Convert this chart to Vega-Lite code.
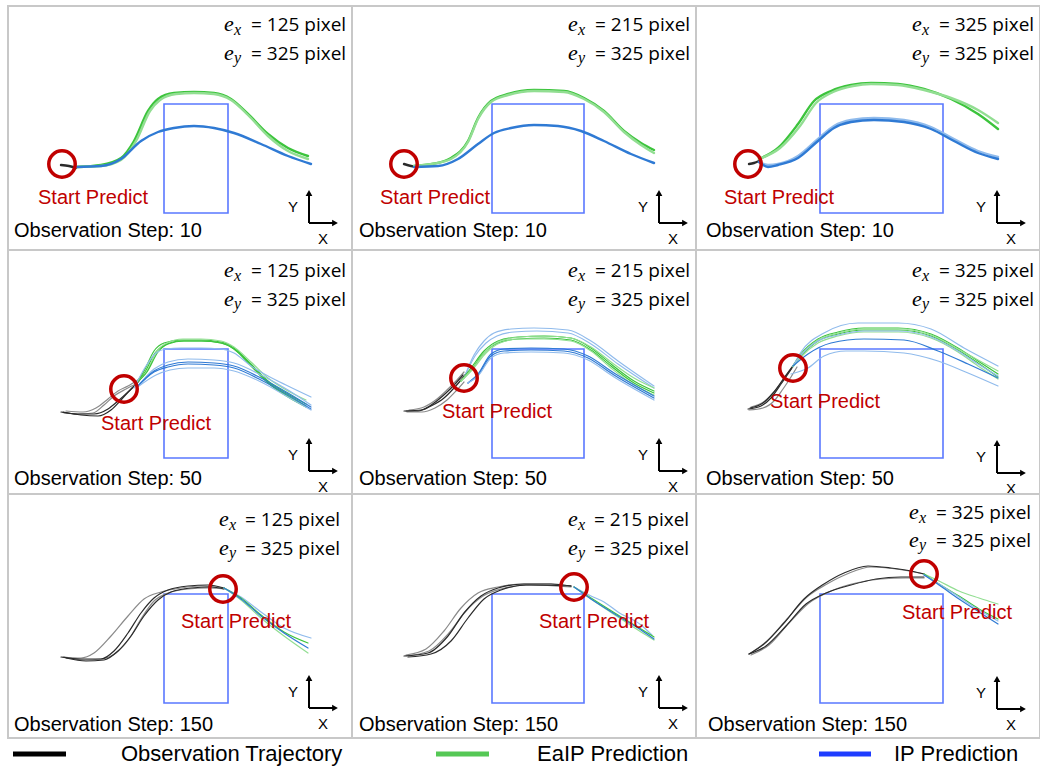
{
  "$schema": "https://vega.github.io/schema/vega-lite/v6.json",
  "padding": {"left": 7, "top": 5, "right": 0, "bottom": 0},
  "background": "white",
  "config": {"view": {"stroke": "#c8c8c8", "strokeWidth": 2}, "concat": {"spacing": 0}, "facet": {"spacing": 0}},
  "spacing": 0,
  "resolve": {"scale": {"color": "independent", "x": "independent", "y": "independent"}},
  "vconcat": [
    {
      "data": {"values": [
        {"r":1,"c":1,"k":"L","s":"obs","i":"o1","x":[53,61,68],"y":[159,160,162]},
        {"r":1,"c":1,"k":"L","s":"eaip","i":"g1","x":[68,93,113,126,140,150,166,186,206,223,240,260,280,300],"y":[161,159,152,135,105,93,87,86,87,93,108,128,142,150]},
        {"r":1,"c":1,"k":"L","s":"eaip2","i":"g2","x":[68,93,113,128,142,152,168,186,206,223,240,260,280,300],"y":[161,160,154,135,105,94,88,87,88,94,109,130,145,153]},
        {"r":1,"c":1,"k":"L","s":"ip","i":"b1","x":[68,93,113,133,150,166,186,206,226,253,280,303],"y":[161,160,153,135,126,122,120,122,127,138,150,158]},

        {"r":1,"c":2,"k":"L","s":"obs","i":"o1","x":[52,59,66],"y":[158,160,161]},
        {"r":1,"c":2,"k":"L","s":"eaip","i":"g1","x":[62,80,99,116,126,139,156,182,212,232,252,272,289,302],"y":[160,158,152,135,112,95,88,84,85,92,105,125,137,144]},
        {"r":1,"c":2,"k":"L","s":"eaip2","i":"g2","x":[62,80,99,116,126,139,156,182,212,232,252,272,289,302],"y":[160,158,153,136,113,96,89,85,86,93,106,126,139,147]},
        {"r":1,"c":2,"k":"L","s":"ip","i":"b1","x":[62,86,106,126,142,159,182,206,229,252,279,302],"y":[161,160,153,138,127,122,119,120,125,135,148,157]},

        {"r":1,"c":3,"k":"L","s":"obs","i":"o1","x":[53,58,63],"y":[158,157,155]},
        {"r":1,"c":3,"k":"L","s":"eaip","i":"g1","x":[63,82,102,118,135,155,175,202,228,255,282,302],"y":[153,142,118,95,85,79,77,78,83,93,108,123]},
        {"r":1,"c":3,"k":"L","s":"eaip2","i":"g2","x":[63,84,104,120,137,157,175,202,228,255,282,302],"y":[153,142,120,97,86,80,78,79,84,92,104,117]},
        {"r":1,"c":3,"k":"L","s":"ip2","i":"b2","x":[63,72,82,102,122,138,155,178,208,235,258,282,302],"y":[156,159,158,150,133,120,114,112,114,121,133,145,151]},
        {"r":1,"c":3,"k":"L","s":"ip","i":"b1","x":[63,72,82,102,122,138,155,178,208,235,258,282,302],"y":[156,161,159,152,135,122,116,114,116,123,135,147,153]},

        {"r":2,"c":1,"k":"L","s":"obs2","i":"o3","x":[58,75,88,100,110,120,130],"y":[161,162,158,149,141,136,130]},
        {"r":2,"c":1,"k":"L","s":"obs2","i":"o4","x":[56,71,85,96,106,118,128],"y":[163,164,163,155,146,139,134]},
        {"r":2,"c":1,"k":"L","s":"obs","i":"o1","x":[53,70,86,100,110,120,130,134],"y":[162,164,164,159,151,142,132,126]},
        {"r":2,"c":1,"k":"L","s":"obs","i":"o2","x":[55,73,90,103,113,123,131,135],"y":[162,165,166,160,150,139,131,125]},
        {"r":2,"c":1,"k":"L","s":"eaip","i":"g1","x":[128,136,146,156,173,193,213,226,243,260,280,298],"y":[133,121,101,93,90,90,92,98,114,131,144,154]},
        {"r":2,"c":1,"k":"L","s":"eaip","i":"g2","x":[128,137,147,157,173,193,213,226,243,260,280,298],"y":[133,122,103,95,91,91,93,99,116,133,147,157]},
        {"r":2,"c":1,"k":"L","s":"eaip2","i":"g3","x":[128,139,149,159,175,193,213,226,243,260,280,298],"y":[133,121,101,93,89,89,91,97,112,128,141,150]},
        {"r":2,"c":1,"k":"L","s":"eaip","i":"g4","x":[128,139,150,160,176,195,213,226,243,260,280,298],"y":[133,122,102,94,91,91,93,99,115,132,146,156]},
        {"r":2,"c":1,"k":"L","s":"ip2","i":"bu","x":[126,138,148,158,173,193,213,226,243,260,280,303],"y":[138,116,103,99,98,98,99,103,116,126,136,147]},
        {"r":2,"c":1,"k":"L","s":"ip2","i":"b2","x":[130,146,160,180,206,226,253,280,303],"y":[136,119,112,109,110,113,125,140,155]},
        {"r":2,"c":1,"k":"L","s":"ip","i":"b3","x":[130,146,160,180,206,226,253,280,303],"y":[136,121,115,112,113,116,128,143,157]},
        {"r":2,"c":1,"k":"L","s":"ip","i":"b4","x":[130,146,160,180,206,226,253,280,303],"y":[136,122,117,114,115,118,130,145,159]},
        {"r":2,"c":1,"k":"L","s":"ip2","i":"b5","x":[131,148,162,180,206,226,253,280,303],"y":[136,125,120,118,118,121,132,147,160]},

        {"r":2,"c":2,"k":"L","s":"obs2","i":"o3","x":[57,72,85,96,105,112],"y":[160,157,149,139,130,122]},
        {"r":2,"c":2,"k":"L","s":"obs2","i":"o4","x":[55,70,83,95,104,112],"y":[162,162,158,150,141,132]},
        {"r":2,"c":2,"k":"L","s":"obs","i":"o1","x":[52,66,79,92,102,109,115],"y":[161,161,156,148,138,130,122]},
        {"r":2,"c":2,"k":"L","s":"obs","i":"o2","x":[54,69,82,94,104,111],"y":[161,160,153,143,133,125]},
        {"r":2,"c":2,"k":"L","s":"ip2","i":"bu1","x":[112,122,132,142,159,182,216,239,266,302],"y":[128,105,91,83,79,78,80,91,111,136]},
        {"r":2,"c":2,"k":"L","s":"ip2","i":"bu2","x":[112,123,134,145,162,185,216,239,266,302],"y":[128,106,93,86,82,81,83,94,114,138]},
        {"r":2,"c":2,"k":"L","s":"eaip","i":"g1","x":[109,119,132,146,166,192,219,239,259,282,302],"y":[131,118,101,91,87,86,88,98,114,131,141]},
        {"r":2,"c":2,"k":"L","s":"eaip","i":"g2","x":[109,119,132,146,166,192,219,239,259,282,302],"y":[131,120,103,93,89,88,90,100,116,133,143]},
        {"r":2,"c":2,"k":"L","s":"eaip2","i":"g3","x":[109,121,134,148,168,192,219,239,259,282,302],"y":[131,118,101,91,87,86,88,97,112,128,138]},
        {"r":2,"c":2,"k":"L","s":"eaip2","i":"g4","x":[109,121,134,148,168,192,219,239,259,282,302],"y":[131,119,103,93,89,89,91,101,118,135,145]},
        {"r":2,"c":2,"k":"L","s":"ip","i":"b1","x":[116,126,139,152,179,212,236,262,302],"y":[133,124,104,99,98,99,106,123,146]},
        {"r":2,"c":2,"k":"L","s":"ip","i":"b2","x":[116,126,139,152,179,212,236,262,302],"y":[133,125,106,101,100,101,108,125,148]},
        {"r":2,"c":2,"k":"L","s":"ip2","i":"b3","x":[116,126,139,152,179,212,236,262,302],"y":[133,126,108,103,102,103,110,127,150]},

        {"r":2,"c":3,"k":"L","s":"obs2","i":"o3","x":[55,69,79,88,95],"y":[157,151,141,128,119]},
        {"r":2,"c":3,"k":"L","s":"obs2","i":"o4","x":[53,67,78,87,95,101],"y":[160,158,151,139,127,117]},
        {"r":2,"c":3,"k":"L","s":"obs","i":"o1","x":[52,65,75,85,92,98],"y":[159,156,148,134,124,115]},
        {"r":2,"c":3,"k":"L","s":"obs","i":"o2","x":[54,67,77,86,93,99],"y":[158,153,143,131,121,113]},
        {"r":2,"c":3,"k":"L","s":"ip2","i":"bu","x":[97,105,128,162,202,235,268,302],"y":[116,102,83,73,73,79,98,116]},
        {"r":2,"c":3,"k":"L","s":"eaip","i":"g1","x":[97,105,122,142,168,202,235,262,282,302],"y":[116,104,89,82,78,78,84,98,111,124]},
        {"r":2,"c":3,"k":"L","s":"eaip","i":"g2","x":[97,105,122,142,168,202,235,262,282,302],"y":[116,106,91,84,80,80,86,100,113,127]},
        {"r":2,"c":3,"k":"L","s":"eaip2","i":"g3","x":[97,105,122,142,168,202,235,262,282,302],"y":[116,105,90,83,79,79,85,99,110,121]},
        {"r":2,"c":3,"k":"L","s":"eaip2","i":"g4","x":[97,105,122,142,168,202,235,262,282,302],"y":[117,107,93,86,82,82,88,102,116,129]},
        {"r":2,"c":3,"k":"L","s":"ip2","i":"b2","x":[97,105,122,142,168,202,235,262,282,302],"y":[116,105,91,85,81,81,87,101,114,126]},
        {"r":2,"c":3,"k":"L","s":"ip","i":"bm","x":[97,112,135,168,208,242,272,302],"y":[116,104,93,89,90,101,114,128]},
        {"r":2,"c":3,"k":"L","s":"ip2","i":"bl","x":[95,112,128,150,168,208,242,272,302],"y":[124,118,106,101,101,103,111,123,136]},

        {"r":3,"c":1,"k":"L","s":"obs2","i":"o2","x":[55,73,86,103,120,136,153,173,193,216],"y":[163,164,159,142,122,105,98,94,92,94]},
        {"r":3,"c":1,"k":"L","s":"obs2","i":"o4","x":[56,76,93,108,121,133,146,160,180,200,216],"y":[163,166,165,159,145,125,107,99,95,94,95]},
        {"r":3,"c":1,"k":"L","s":"obs","i":"o1","x":[53,73,93,106,120,133,146,160,180,200,216],"y":[163,165,165,157,139,119,104,96,92,91,94]},
        {"r":3,"c":1,"k":"L","s":"obs","i":"o3","x":[58,78,96,110,123,136,150,163,183,203,216],"y":[164,167,166,157,142,122,106,98,94,93,95]},
        {"r":3,"c":1,"k":"L","s":"ip2","i":"bu","x":[216,233,253,276,303],"y":[94,103,118,134,144]},
        {"r":3,"c":1,"k":"L","s":"eaip","i":"g1","x":[216,233,253,276,300],"y":[94,104,121,138,149]},
        {"r":3,"c":1,"k":"L","s":"eaip2","i":"g2","x":[216,233,253,276,300],"y":[94,106,124,142,159]},
        {"r":3,"c":1,"k":"L","s":"ip","i":"b1","x":[216,233,253,276,300],"y":[94,105,122,139,154]},

        {"r":3,"c":2,"k":"L","s":"obs2","i":"o2","x":[54,74,92,109,126,146,172,199,219],"y":[161,155,137,114,99,93,90,90,92]},
        {"r":3,"c":2,"k":"L","s":"obs2","i":"o4","x":[54,77,97,114,131,149,179,219],"y":[162,157,139,117,102,95,91,93]},
        {"r":3,"c":2,"k":"L","s":"obs","i":"o1","x":[52,76,96,112,129,146,172,199,219],"y":[162,159,142,119,102,94,90,90,92]},
        {"r":3,"c":2,"k":"L","s":"obs","i":"o3","x":[56,79,99,116,132,149,174,219],"y":[163,160,147,124,105,96,91,92]},
        {"r":3,"c":2,"k":"L","s":"ip2","i":"bu","x":[222,239,252,266,289,300],"y":[93,102,108,118,131,141]},
        {"r":3,"c":2,"k":"L","s":"eaip","i":"g1","x":[222,239,266,289,302],"y":[93,104,121,135,143]},
        {"r":3,"c":2,"k":"L","s":"eaip2","i":"g2","x":[222,239,266,289,302],"y":[93,105,123,138,146]},
        {"r":3,"c":2,"k":"L","s":"ip","i":"b1","x":[222,239,266,289,302],"y":[93,105,122,136,145]},

        {"r":3,"c":3,"k":"L","s":"obs2","i":"o2","x":[55,71,91,111,131,151,175,200,228],"y":[159,147,125,103,90,80,73,75,80]},
        {"r":3,"c":3,"k":"L","s":"obs2","i":"o4","x":[55,73,93,113,135,160,185,210,228],"y":[161,151,129,109,97,89,85,84,84]},
        {"r":3,"c":3,"k":"L","s":"obs","i":"o1","x":[53,68,88,108,128,148,172,195,215,228],"y":[160,150,129,105,90,79,72,74,77,80]},
        {"r":3,"c":3,"k":"L","s":"obs","i":"o3","x":[53,70,90,110,130,155,180,205,228],"y":[160,152,132,110,99,91,85,83,83]},
        {"r":3,"c":3,"k":"L","s":"eaip2","i":"gu","x":[228,243,263,283,302],"y":[80,87,97,104,110]},
        {"r":3,"c":3,"k":"L","s":"eaip","i":"g1","x":[228,243,263,283,302],"y":[80,90,102,115,125]},
        {"r":3,"c":3,"k":"L","s":"ip2","i":"b2","x":[228,243,263,283,302],"y":[81,90,103,116,127]},
        {"r":3,"c":3,"k":"L","s":"ip","i":"b1","x":[228,243,263,283,302],"y":[81,91,105,118,130]},

        {"r":1,"c":1,"k":"box","x":156,"x2":220,"y":98,"y2":207},
        {"r":1,"c":2,"k":"box","x":140,"x2":232,"y":98,"y2":207},
        {"r":1,"c":3,"k":"box","x":124,"x2":247,"y":98,"y2":207},
        {"r":2,"c":1,"k":"box","x":156,"x2":220,"y":99,"y2":208},
        {"r":2,"c":2,"k":"box","x":140,"x2":232,"y":99,"y2":208},
        {"r":2,"c":3,"k":"box","x":124,"x2":247,"y":99,"y2":208},
        {"r":3,"c":1,"k":"box","x":156,"x2":220,"y":100,"y2":209},
        {"r":3,"c":2,"k":"box","x":140,"x2":232,"y":100,"y2":209},
        {"r":3,"c":3,"k":"box","x":124,"x2":247,"y":100,"y2":209},

        {"r":1,"c":1,"k":"ring","x":54,"y":158},
        {"r":1,"c":2,"k":"ring","x":52,"y":158},
        {"r":1,"c":3,"k":"ring","x":52,"y":158},
        {"r":2,"c":1,"k":"ring","x":116,"y":139},
        {"r":2,"c":2,"k":"ring","x":112,"y":128},
        {"r":2,"c":3,"k":"ring","x":97,"y":118},
        {"r":3,"c":1,"k":"ring","x":215,"y":95},
        {"r":3,"c":2,"k":"ring","x":222,"y":93},
        {"r":3,"c":3,"k":"ring","x":228,"y":80},

        {"r":1,"c":1,"k":"sp","x":30,"y":198,"t":"Start Predict"},
        {"r":1,"c":2,"k":"sp","x":28,"y":198,"t":"Start Predict"},
        {"r":1,"c":3,"k":"sp","x":28,"y":198,"t":"Start Predict"},
        {"r":2,"c":1,"k":"sp","x":93,"y":180,"t":"Start Predict"},
        {"r":2,"c":2,"k":"sp","x":90,"y":168,"t":"Start Predict"},
        {"r":2,"c":3,"k":"sp","x":74,"y":158,"t":"Start Predict"},
        {"r":3,"c":1,"k":"sp","x":173,"y":134,"t":"Start Predict"},
        {"r":3,"c":2,"k":"sp","x":187,"y":134,"t":"Start Predict"},
        {"r":3,"c":3,"k":"sp","x":206,"y":125,"t":"Start Predict"},

        {"r":1,"c":1,"k":"step","x":6,"y":231,"t":"Observation Step: 10"},
        {"r":1,"c":2,"k":"step","x":7,"y":231,"t":"Observation Step: 10"},
        {"r":1,"c":3,"k":"step","x":10,"y":231,"t":"Observation Step: 10"},
        {"r":2,"c":1,"k":"step","x":6,"y":235,"t":"Observation Step: 50"},
        {"r":2,"c":2,"k":"step","x":7,"y":235,"t":"Observation Step: 50"},
        {"r":2,"c":3,"k":"step","x":10,"y":235,"t":"Observation Step: 50"},
        {"r":3,"c":1,"k":"step","x":6,"y":237,"t":"Observation Step: 150"},
        {"r":3,"c":2,"k":"step","x":7,"y":237,"t":"Observation Step: 150"},
        {"r":3,"c":3,"k":"step","x":12,"y":237,"t":"Observation Step: 150"},

        {"r":1,"c":1,"k":"e","x":216,"y":25,"t":"e"},{"r":1,"c":1,"k":"e","x":216,"y":54,"t":"e"},
        {"r":1,"c":1,"k":"sub","x":226,"y":29,"t":"x"},{"r":1,"c":1,"k":"sub","x":226,"y":57,"t":"y"},
        {"r":1,"c":1,"k":"eq","x":243,"y":25,"t":"= 125 pixel"},{"r":1,"c":1,"k":"eq","x":243,"y":54,"t":"= 325 pixel"},
        {"r":1,"c":2,"k":"e","x":216,"y":25,"t":"e"},{"r":1,"c":2,"k":"e","x":216,"y":54,"t":"e"},
        {"r":1,"c":2,"k":"sub","x":226,"y":29,"t":"x"},{"r":1,"c":2,"k":"sub","x":226,"y":57,"t":"y"},
        {"r":1,"c":2,"k":"eq","x":243,"y":25,"t":"= 215 pixel"},{"r":1,"c":2,"k":"eq","x":243,"y":54,"t":"= 325 pixel"},
        {"r":1,"c":3,"k":"e","x":216,"y":25,"t":"e"},{"r":1,"c":3,"k":"e","x":216,"y":54,"t":"e"},
        {"r":1,"c":3,"k":"sub","x":226,"y":29,"t":"x"},{"r":1,"c":3,"k":"sub","x":226,"y":57,"t":"y"},
        {"r":1,"c":3,"k":"eq","x":243,"y":25,"t":"= 325 pixel"},{"r":1,"c":3,"k":"eq","x":243,"y":54,"t":"= 325 pixel"},
        {"r":2,"c":1,"k":"e","x":216,"y":27,"t":"e"},{"r":2,"c":1,"k":"e","x":216,"y":56,"t":"e"},
        {"r":2,"c":1,"k":"sub","x":226,"y":31,"t":"x"},{"r":2,"c":1,"k":"sub","x":226,"y":59,"t":"y"},
        {"r":2,"c":1,"k":"eq","x":243,"y":27,"t":"= 125 pixel"},{"r":2,"c":1,"k":"eq","x":243,"y":56,"t":"= 325 pixel"},
        {"r":2,"c":2,"k":"e","x":216,"y":27,"t":"e"},{"r":2,"c":2,"k":"e","x":216,"y":56,"t":"e"},
        {"r":2,"c":2,"k":"sub","x":226,"y":31,"t":"x"},{"r":2,"c":2,"k":"sub","x":226,"y":59,"t":"y"},
        {"r":2,"c":2,"k":"eq","x":243,"y":27,"t":"= 215 pixel"},{"r":2,"c":2,"k":"eq","x":243,"y":56,"t":"= 325 pixel"},
        {"r":2,"c":3,"k":"e","x":216,"y":27,"t":"e"},{"r":2,"c":3,"k":"e","x":216,"y":56,"t":"e"},
        {"r":2,"c":3,"k":"sub","x":226,"y":31,"t":"x"},{"r":2,"c":3,"k":"sub","x":226,"y":59,"t":"y"},
        {"r":2,"c":3,"k":"eq","x":243,"y":27,"t":"= 325 pixel"},{"r":2,"c":3,"k":"eq","x":243,"y":56,"t":"= 325 pixel"},
        {"r":3,"c":1,"k":"e","x":211,"y":32,"t":"e"},{"r":3,"c":1,"k":"e","x":211,"y":61,"t":"e"},
        {"r":3,"c":1,"k":"sub","x":221,"y":36,"t":"x"},{"r":3,"c":1,"k":"sub","x":221,"y":64,"t":"y"},
        {"r":3,"c":1,"k":"eq","x":237,"y":32,"t":"= 125 pixel"},{"r":3,"c":1,"k":"eq","x":237,"y":61,"t":"= 325 pixel"},
        {"r":3,"c":2,"k":"e","x":216,"y":32,"t":"e"},{"r":3,"c":2,"k":"e","x":216,"y":61,"t":"e"},
        {"r":3,"c":2,"k":"sub","x":226,"y":36,"t":"x"},{"r":3,"c":2,"k":"sub","x":226,"y":64,"t":"y"},
        {"r":3,"c":2,"k":"eq","x":242,"y":32,"t":"= 215 pixel"},{"r":3,"c":2,"k":"eq","x":242,"y":61,"t":"= 325 pixel"},
        {"r":3,"c":3,"k":"e","x":213,"y":25,"t":"e"},{"r":3,"c":3,"k":"e","x":213,"y":53,"t":"e"},
        {"r":3,"c":3,"k":"sub","x":223,"y":29,"t":"x"},{"r":3,"c":3,"k":"sub","x":223,"y":56,"t":"y"},
        {"r":3,"c":3,"k":"eq","x":240,"y":25,"t":"= 325 pixel"},{"r":3,"c":3,"k":"eq","x":240,"y":53,"t":"= 325 pixel"},

        {"r":1,"c":1,"k":"ax","x":301,"y":186,"x2":301,"y2":217},{"r":1,"c":1,"k":"ax","x":301,"y":217,"x2":327,"y2":217},
        {"r":1,"c":1,"k":"ah","d":"up","x":301,"y":187},{"r":1,"c":1,"k":"ah","d":"right","x":327,"y":217},
        {"r":1,"c":1,"k":"al","t":"Y","x":285,"y":201},{"r":1,"c":1,"k":"al","t":"X","x":315,"y":233},
        {"r":1,"c":2,"k":"ax","x":307,"y":186,"x2":307,"y2":217},{"r":1,"c":2,"k":"ax","x":307,"y":217,"x2":333,"y2":217},
        {"r":1,"c":2,"k":"ah","d":"up","x":307,"y":187},{"r":1,"c":2,"k":"ah","d":"right","x":333,"y":217},
        {"r":1,"c":2,"k":"al","t":"Y","x":291,"y":201},{"r":1,"c":2,"k":"al","t":"X","x":321,"y":233},
        {"r":1,"c":3,"k":"ax","x":301,"y":186,"x2":301,"y2":217},{"r":1,"c":3,"k":"ax","x":301,"y":217,"x2":327,"y2":217},
        {"r":1,"c":3,"k":"ah","d":"up","x":301,"y":187},{"r":1,"c":3,"k":"ah","d":"right","x":327,"y":217},
        {"r":1,"c":3,"k":"al","t":"Y","x":285,"y":201},{"r":1,"c":3,"k":"al","t":"X","x":315,"y":233},
        {"r":2,"c":1,"k":"ax","x":301,"y":190,"x2":301,"y2":221},{"r":2,"c":1,"k":"ax","x":301,"y":221,"x2":327,"y2":221},
        {"r":2,"c":1,"k":"ah","d":"up","x":301,"y":191},{"r":2,"c":1,"k":"ah","d":"right","x":327,"y":221},
        {"r":2,"c":1,"k":"al","t":"Y","x":285,"y":205},{"r":2,"c":1,"k":"al","t":"X","x":315,"y":237},
        {"r":2,"c":2,"k":"ax","x":307,"y":190,"x2":307,"y2":221},{"r":2,"c":2,"k":"ax","x":307,"y":221,"x2":333,"y2":221},
        {"r":2,"c":2,"k":"ah","d":"up","x":307,"y":191},{"r":2,"c":2,"k":"ah","d":"right","x":333,"y":221},
        {"r":2,"c":2,"k":"al","t":"Y","x":291,"y":205},{"r":2,"c":2,"k":"al","t":"X","x":321,"y":237},
        {"r":2,"c":3,"k":"ax","x":301,"y":192,"x2":301,"y2":223},{"r":2,"c":3,"k":"ax","x":301,"y":223,"x2":327,"y2":223},
        {"r":2,"c":3,"k":"ah","d":"up","x":301,"y":193},{"r":2,"c":3,"k":"ah","d":"right","x":327,"y":223},
        {"r":2,"c":3,"k":"al","t":"Y","x":285,"y":207},{"r":2,"c":3,"k":"al","t":"X","x":315,"y":239},
        {"r":3,"c":1,"k":"ax","x":301,"y":183,"x2":301,"y2":214},{"r":3,"c":1,"k":"ax","x":301,"y":214,"x2":327,"y2":214},
        {"r":3,"c":1,"k":"ah","d":"up","x":301,"y":184},{"r":3,"c":1,"k":"ah","d":"right","x":327,"y":214},
        {"r":3,"c":1,"k":"al","t":"Y","x":285,"y":198},{"r":3,"c":1,"k":"al","t":"X","x":315,"y":230},
        {"r":3,"c":2,"k":"ax","x":307,"y":183,"x2":307,"y2":214},{"r":3,"c":2,"k":"ax","x":307,"y":214,"x2":333,"y2":214},
        {"r":3,"c":2,"k":"ah","d":"up","x":307,"y":184},{"r":3,"c":2,"k":"ah","d":"right","x":333,"y":214},
        {"r":3,"c":2,"k":"al","t":"Y","x":291,"y":198},{"r":3,"c":2,"k":"al","t":"X","x":321,"y":230},
        {"r":3,"c":3,"k":"ax","x":301,"y":184,"x2":301,"y2":215},{"r":3,"c":3,"k":"ax","x":301,"y":215,"x2":327,"y2":215},
        {"r":3,"c":3,"k":"ah","d":"up","x":301,"y":185},{"r":3,"c":3,"k":"ah","d":"right","x":327,"y":215},
        {"r":3,"c":3,"k":"al","t":"Y","x":285,"y":199},{"r":3,"c":3,"k":"al","t":"X","x":315,"y":231}
      ]},
      "facet": {
        "row": {"field": "r", "type": "ordinal", "header": {"title": null, "labels": false}},
        "column": {"field": "c", "type": "ordinal", "header": {"title": null, "labels": false}}
      },
      "spacing": 0,
      "bounds": "flush",
      "spec": {
        "width": 344,
        "height": 244,
        "layer": [
          {
            "transform": [{"filter": "datum.k == 'box'"}],
            "mark": {"type": "rect", "fillOpacity": 0, "stroke": "#5a78ff", "strokeWidth": 1.6},
            "encoding": {
              "x": {"field": "x", "type": "quantitative", "scale": {"domain": [0, 344], "nice": false, "zero": false}, "axis": null},
              "x2": {"field": "x2"},
              "y": {"field": "y", "type": "quantitative", "scale": {"domain": [0, 244], "nice": false, "zero": false, "reverse": true}, "axis": null},
              "y2": {"field": "y2"}
            }
          },
          {
            "transform": [{"filter": "datum.k == 'L'"}, {"flatten": ["x", "y"]}],
            "mark": {"type": "line", "interpolate": "monotone", "strokeCap": "round", "strokeJoin": "round"},
            "encoding": {
              "x": {"field": "x", "type": "quantitative", "scale": {"domain": [0, 344], "nice": false, "zero": false}, "axis": null},
              "y": {"field": "y", "type": "quantitative", "scale": {"domain": [0, 244], "nice": false, "zero": false, "reverse": true}, "axis": null},
              "detail": {"field": "i"},
              "color": {"field": "s", "type": "nominal", "legend": null,
                "scale": {"domain": ["obs", "obs2", "eaip", "eaip2", "ip", "ip2"], "range": ["#2a2a2a", "#8a8a8a", "#3cc43c", "#92de92", "#2f7ad4", "#90bbec"]}},
              "strokeWidth": {"condition": {"test": "datum.r == 1", "value": 2.4}, "value": 1.2}
            }
          },
          {
            "transform": [{"filter": "datum.k == 'ring'"}],
            "mark": {"type": "point", "shape": "circle", "filled": false, "size": 700, "stroke": "#c00000", "strokeWidth": 3.5, "opacity": 1},
            "encoding": {
              "x": {"field": "x", "type": "quantitative", "scale": {"domain": [0, 344], "nice": false, "zero": false}, "axis": null},
              "y": {"field": "y", "type": "quantitative", "scale": {"domain": [0, 244], "nice": false, "zero": false, "reverse": true}, "axis": null}
            }
          },
          {
            "transform": [{"filter": "datum.k == 'sp'"}],
            "mark": {"type": "text", "align": "left", "baseline": "alphabetic", "font": "Liberation Sans", "fontSize": 20, "color": "#c00000"},
            "encoding": {
              "x": {"field": "x", "type": "quantitative", "scale": {"domain": [0, 344], "nice": false, "zero": false}, "axis": null},
              "y": {"field": "y", "type": "quantitative", "scale": {"domain": [0, 244], "nice": false, "zero": false, "reverse": true}, "axis": null},
              "text": {"field": "t"}
            }
          },
          {
            "transform": [{"filter": "datum.k == 'step'"}],
            "mark": {"type": "text", "align": "left", "baseline": "alphabetic", "font": "Liberation Sans", "fontSize": 20, "color": "#000000"},
            "encoding": {
              "x": {"field": "x", "type": "quantitative", "scale": {"domain": [0, 344], "nice": false, "zero": false}, "axis": null},
              "y": {"field": "y", "type": "quantitative", "scale": {"domain": [0, 244], "nice": false, "zero": false, "reverse": true}, "axis": null},
              "text": {"field": "t"}
            }
          },
          {
            "transform": [{"filter": "datum.k == 'e'"}],
            "mark": {"type": "text", "align": "left", "baseline": "alphabetic", "font": "Liberation Serif", "fontStyle": "italic", "fontSize": 22, "color": "#000000"},
            "encoding": {
              "x": {"field": "x", "type": "quantitative", "scale": {"domain": [0, 344], "nice": false, "zero": false}, "axis": null},
              "y": {"field": "y", "type": "quantitative", "scale": {"domain": [0, 244], "nice": false, "zero": false, "reverse": true}, "axis": null},
              "text": {"field": "t"}
            }
          },
          {
            "transform": [{"filter": "datum.k == 'sub'"}],
            "mark": {"type": "text", "align": "left", "baseline": "alphabetic", "font": "Liberation Serif", "fontStyle": "italic", "fontSize": 16, "color": "#000000"},
            "encoding": {
              "x": {"field": "x", "type": "quantitative", "scale": {"domain": [0, 344], "nice": false, "zero": false}, "axis": null},
              "y": {"field": "y", "type": "quantitative", "scale": {"domain": [0, 244], "nice": false, "zero": false, "reverse": true}, "axis": null},
              "text": {"field": "t"}
            }
          },
          {
            "transform": [{"filter": "datum.k == 'eq'"}],
            "mark": {"type": "text", "align": "left", "baseline": "alphabetic", "font": "Open Sans", "fontSize": 19, "color": "#000000"},
            "encoding": {
              "x": {"field": "x", "type": "quantitative", "scale": {"domain": [0, 344], "nice": false, "zero": false}, "axis": null},
              "y": {"field": "y", "type": "quantitative", "scale": {"domain": [0, 244], "nice": false, "zero": false, "reverse": true}, "axis": null},
              "text": {"field": "t"}
            }
          },
          {
            "transform": [{"filter": "datum.k == 'ax'"}],
            "mark": {"type": "rule", "color": "#000000", "strokeWidth": 2},
            "encoding": {
              "x": {"field": "x", "type": "quantitative", "scale": {"domain": [0, 344], "nice": false, "zero": false}, "axis": null},
              "x2": {"field": "x2"},
              "y": {"field": "y", "type": "quantitative", "scale": {"domain": [0, 244], "nice": false, "zero": false, "reverse": true}, "axis": null},
              "y2": {"field": "y2"}
            }
          },
          {
            "transform": [{"filter": "datum.k == 'ah'"}],
            "mark": {"type": "point", "filled": true, "size": 45, "color": "#000000", "opacity": 1},
            "encoding": {
              "x": {"field": "x", "type": "quantitative", "scale": {"domain": [0, 344], "nice": false, "zero": false}, "axis": null},
              "y": {"field": "y", "type": "quantitative", "scale": {"domain": [0, 244], "nice": false, "zero": false, "reverse": true}, "axis": null},
              "shape": {"field": "d", "type": "nominal", "legend": null, "scale": {"domain": ["up", "right"], "range": ["triangle-up", "triangle-right"]}}
            }
          },
          {
            "transform": [{"filter": "datum.k == 'al'"}],
            "mark": {"type": "text", "align": "center", "baseline": "middle", "font": "Liberation Sans", "fontSize": 15, "color": "#000000"},
            "encoding": {
              "x": {"field": "x", "type": "quantitative", "scale": {"domain": [0, 344], "nice": false, "zero": false}, "axis": null},
              "y": {"field": "y", "type": "quantitative", "scale": {"domain": [0, 244], "nice": false, "zero": false, "reverse": true}, "axis": null},
              "text": {"field": "t"}
            }
          }
        ]
      }
    },
    {
      "width": 1033,
      "height": 30,
      "view": {"stroke": null},
      "data": {"values": [
        {"s": "Observation Trajectory", "x": 5, "x2": 58, "lx": 113, "y": 15},
        {"s": "EaIP Prediction", "x": 428, "x2": 481, "lx": 529, "y": 15},
        {"s": "IP Prediction", "x": 811, "x2": 863, "lx": 886, "y": 15}
      ]},
      "layer": [
        {
          "mark": {"type": "rule", "strokeWidth": 5},
          "encoding": {
            "x": {"field": "x", "type": "quantitative", "scale": {"domain": [0, 1033], "nice": false, "zero": false}, "axis": null},
            "x2": {"field": "x2"},
            "y": {"field": "y", "type": "quantitative", "scale": {"domain": [0, 30], "nice": false, "zero": false, "reverse": true}, "axis": null},
            "color": {"field": "s", "type": "nominal", "legend": null,
              "scale": {"domain": ["Observation Trajectory", "EaIP Prediction", "IP Prediction"], "range": ["#000000", "#55c855", "#1e3cff"]}}
          }
        },
        {
          "mark": {"type": "text", "align": "left", "baseline": "middle", "font": "Liberation Sans", "fontSize": 22, "color": "#000000"},
          "encoding": {
            "x": {"field": "lx", "type": "quantitative", "scale": {"domain": [0, 1033], "nice": false, "zero": false}, "axis": null},
            "y": {"field": "y", "type": "quantitative", "scale": {"domain": [0, 30], "nice": false, "zero": false, "reverse": true}, "axis": null},
            "text": {"field": "s"}
          }
        }
      ]
    }
  ]
}
